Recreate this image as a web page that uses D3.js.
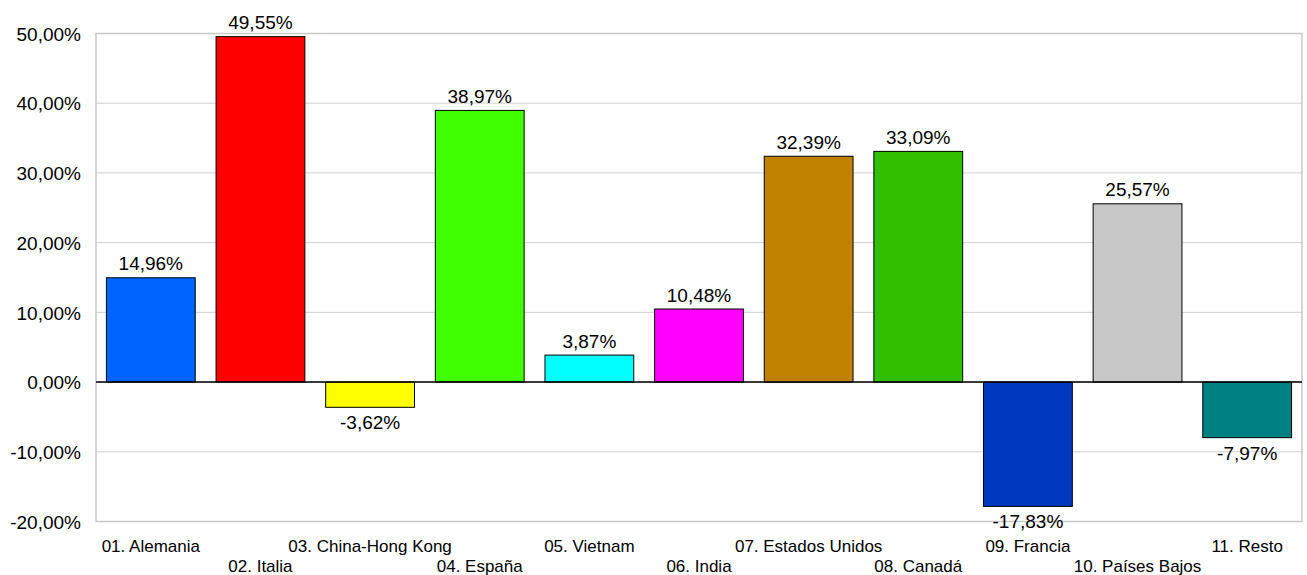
<!DOCTYPE html>
<html>
<head>
<meta charset="utf-8">
<script src="https://cdn.jsdelivr.net/npm/d3@7"></script>
<style>
html,body{margin:0;padding:0;background:#fff;}
svg{display:block;font-family:"Liberation Sans",Arial,sans-serif;}
</style>
</head>
<body>
<svg id="chart" width="1307" height="575"></svg>
<script>
const categories = ["01. Alemania","02. Italia","03. China-Hong Kong","04. España","05. Vietnam","06. India","07. Estados Unidos","08. Canadá","09. Francia","10. Países Bajos","11. Resto"];
const values = [14.96,49.55,-3.62,38.97,3.87,10.48,32.39,33.09,-17.83,25.57,-7.97];
const colors = ["#0064ff","#ff0000","#ffff00","#40ff00","#00ffff","#ff00ff","#c08000","#30c000","#0038c0","#c8c8c8","#008080"];
const yTicks = [-20,-10,0,10,20,30,40,50];

const svg = d3.select("#chart");
const pLeft = 96, pRight = 1302, pTop = 33.5, pBottom = 521.5;
const fmt = v => d3.format(".2f")(v).replace(".", ",").replace("\u2212", "-") + "%";

const x = d3.scaleBand().domain(categories).range([pLeft, pRight]).paddingInner(0.19).paddingOuter(0.095);
const y = d3.scaleLinear().domain([-20, 50]).range([pBottom, pTop]);

// gridlines
svg.append("g").selectAll("line").data(yTicks).join("line")
  .attr("x1", pLeft).attr("x2", pRight)
  .attr("y1", d => y(d)).attr("y2", d => y(d))
  .attr("stroke", "#d0d0d0").attr("stroke-width", 1);

// plot frame
svg.append("rect").attr("x", pLeft).attr("y", pTop).attr("width", pRight - pLeft).attr("height", pBottom - pTop)
  .attr("fill", "none").attr("stroke", "#c8c8c8").attr("stroke-width", 1.5);

// y axis labels
const yAxis = d3.axisLeft(y).tickValues(yTicks).tickSize(0).tickPadding(15).tickFormat(d => fmt(d));
const ya = svg.append("g").attr("transform", `translate(${pLeft},0)`).call(yAxis);
ya.select(".domain").remove();
ya.selectAll("text").attr("font-size", 19).attr("fill", "#000").attr("font-family", "Liberation Sans, Arial, sans-serif").attr("dy", "0.35em");

// bars
svg.append("g").selectAll("rect").data(values).join("rect")
  .attr("x", (d, i) => x(categories[i]))
  .attr("width", x.bandwidth())
  .attr("y", d => y(Math.max(0, d)))
  .attr("height", d => Math.abs(y(d) - y(0)))
  .attr("fill", (d, i) => colors[i])
  .attr("stroke", "#000").attr("stroke-width", 1);

// zero line
svg.append("line").attr("x1", pLeft).attr("x2", pRight).attr("y1", y(0)).attr("y2", y(0))
  .attr("stroke", "#000").attr("stroke-width", 1.5);

// value labels
svg.append("g").selectAll("text").data(values).join("text")
  .attr("x", (d, i) => x(categories[i]) + x.bandwidth() / 2)
  .attr("y", d => d >= 0 ? y(d) - 7.5 : y(d) + 22)
  .attr("text-anchor", "middle").attr("font-size", 19).attr("fill", "#000")
  .text(d => fmt(d));

// category labels (staggered)
svg.append("g").selectAll("text").data(categories).join("text")
  .attr("x", d => x(d) + x.bandwidth() / 2)
  .attr("y", (d, i) => i % 2 === 0 ? 551.5 : 572)
  .attr("text-anchor", "middle").attr("font-size", 17).attr("fill", "#000")
  .text(d => d);
</script>
</body>
</html>
